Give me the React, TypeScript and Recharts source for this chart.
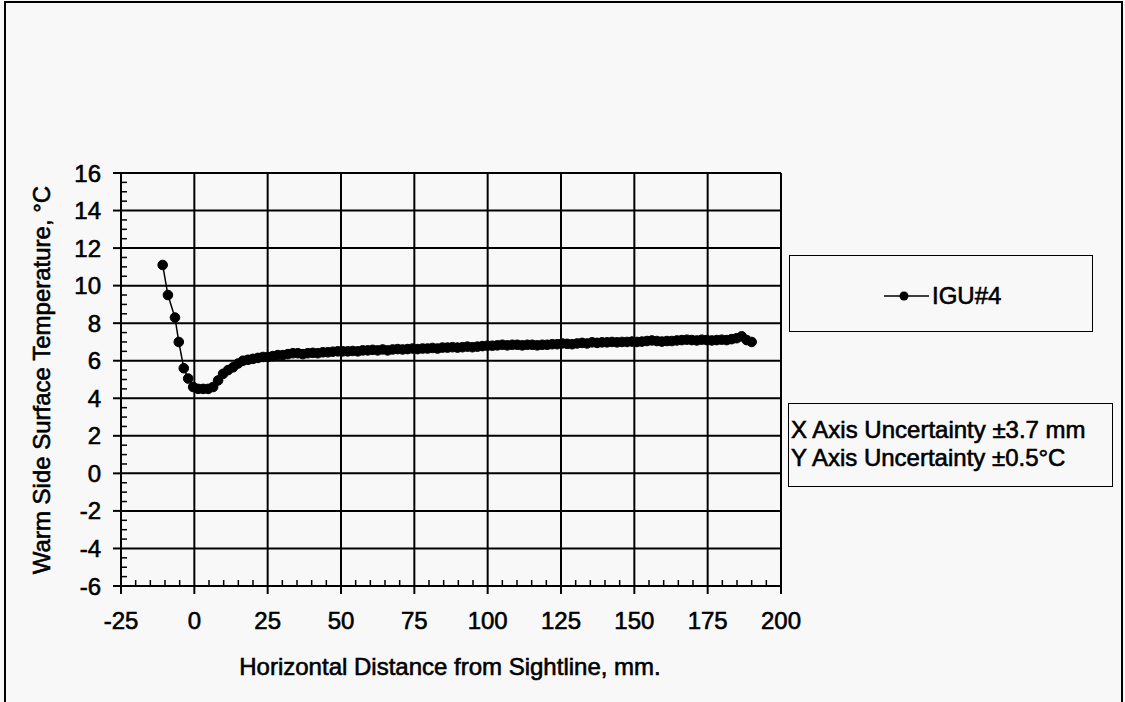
import React from 'react';
import { LineChart, Line, XAxis, YAxis, ReferenceLine, Legend } from 'recharts';

// ---- data ----
const xPositionsMm = [
  -10.8, -9.0, -6.6, -5.3, -3.6, -2.1, -0.4, 1.3, 3.0, 4.7, 6.4, 8.1, 9.8, 11.5, 13.2, 14.9, 16.6, 18.3, 20.0,
  21.7, 23.4, 25.1, 26.8, 28.5, 30.2, 31.9, 33.6, 35.3, 37.0, 38.7, 40.4, 42.1, 43.8, 45.5, 47.2, 48.9, 50.6,
  52.3, 54.0, 55.7, 57.4, 59.1, 60.8, 62.5, 64.2, 65.9, 67.6, 69.3, 71.0, 72.7, 74.4, 76.1, 77.8, 79.5, 81.2,
  82.9, 84.6, 86.3, 88.0, 89.7, 91.4, 93.1, 94.8, 96.5, 98.2, 99.9, 101.6, 103.3, 105.0, 106.7, 108.4, 110.1,
  111.8, 113.5, 115.2, 116.9, 118.6, 120.3, 122.0, 123.7, 125.4, 127.1, 128.8, 130.5, 132.2, 133.9, 135.6,
  137.3, 139.0, 140.7, 142.4, 144.1, 145.8, 147.5, 149.2, 150.9, 152.6, 154.3, 156.0, 157.7, 159.4, 161.1,
  162.8, 164.5, 166.2, 167.9, 169.6, 171.3, 173.0, 174.7, 176.4, 178.1, 179.8, 181.5, 183.2, 184.9, 186.6,
  188.3, 190.0,
];

const igu4Temps = [
  11.1, 9.5, 8.3, 7.0, 5.6, 5.05, 4.6, 4.5, 4.5, 4.5, 4.6, 4.95, 5.3, 5.5, 5.65, 5.85, 6.0, 6.05, 6.1,
  6.15, 6.2, 6.2, 6.25, 6.3, 6.3, 6.35, 6.4, 6.4, 6.35, 6.4, 6.42, 6.4, 6.45, 6.45, 6.48, 6.5, 6.5,
  6.5, 6.52, 6.5, 6.55, 6.55, 6.58, 6.55, 6.6, 6.55, 6.6, 6.62, 6.6, 6.62, 6.65, 6.62, 6.65, 6.65, 6.68,
  6.65, 6.7, 6.7, 6.72, 6.7, 6.72, 6.75, 6.72, 6.75, 6.78, 6.8, 6.8, 6.82, 6.85, 6.82, 6.85, 6.85,
  6.82, 6.85, 6.85, 6.82, 6.85, 6.85, 6.88, 6.88, 6.92, 6.9, 6.88, 6.92, 6.95, 6.92, 6.98,
  6.95, 6.98, 6.98, 7.0, 6.98, 7.0, 7.0, 7.02, 7.0, 7.02, 7.05, 7.08, 7.05, 7.02, 7.05,
  7.05, 7.08, 7.1, 7.12, 7.1, 7.08, 7.12, 7.1, 7.08, 7.1, 7.12, 7.1, 7.15, 7.2, 7.3,
  7.1, 7.0,
];

const seriesName = 'IGU#4';
const xMajorTicks = [-25, 0, 25, 50, 75, 100, 125, 150, 175, 200];
const yMajorTicks = [-6, -4, -2, 0, 2, 4, 6, 8, 10, 12, 14, 16];
const xMinorStep = 5;
const yMinorStep = 0.5;
const xTitle = 'Horizontal Distance from Sightline, mm.';
const yTitle = 'Warm Side Surface Temperature, \u00B0C';
const noteLines = ['X Axis Uncertainty \u00B13.7 mm', 'Y Axis Uncertainty \u00B10.5\u00B0C'];

// ---- derived tables ----
const data = xPositionsMm.map((x, i) => ({ x, igu4: igu4Temps[i] }));
const xAllTicks: number[] = [];
for (let v = xMajorTicks[0]; v <= xMajorTicks[xMajorTicks.length - 1] + 1e-9; v += xMinorStep) xAllTicks.push(v);
const yAllTicks: number[] = [];
for (let v = yMajorTicks[0]; v <= yMajorTicks[yMajorTicks.length - 1] + 1e-9; v += yMinorStep) yAllTicks.push(+v.toFixed(2));

const FONT = '"Liberation Sans", Arial, Helvetica, sans-serif';
const FS = 24;
const TS = 8; // major tick length
const TM = 18; // label gap
const MINOR = 6;
const TEXT_STROKE = 0.6;

const XTick = (props: any) => {
  const { x, y, payload } = props;
  const v = payload.value;
  const axisY = y - TS - TM;
  const major = xMajorTicks.some((m) => Math.abs(m - v) < 1e-6);
  if (major) {
    return (
      <g>
        <line x1={x} x2={x} y1={axisY} y2={axisY + TS} stroke="#000" strokeWidth={2} />
        <text
          x={x}
          y={y}
          dy="0.71em"
          textAnchor="middle"
          fontFamily={FONT}
          fontSize={FS}
          fill="#000"
          stroke="#000"
          strokeWidth={TEXT_STROKE}
        >
          {v}
        </text>
      </g>
    );
  }
  return <line x1={x} x2={x} y1={axisY} y2={axisY - MINOR} stroke="#000" strokeWidth={1.5} />;
};

const YTick = (props: any) => {
  const { x, y, payload } = props;
  const v = payload.value;
  const axisX = x + TS + 12;
  const major = yMajorTicks.some((m) => Math.abs(m - v) < 1e-6);
  if (major) {
    return (
      <g>
        <line x1={axisX - TS} x2={axisX} y1={y} y2={y} stroke="#000" strokeWidth={2} />
        <text
          x={x}
          y={y}
          dy="0.355em"
          textAnchor="end"
          fontFamily={FONT}
          fontSize={FS}
          fill="#000"
          stroke="#000"
          strokeWidth={TEXT_STROKE}
        >
          {v}
        </text>
      </g>
    );
  }
  return <line x1={axisX} x2={axisX + MINOR} y1={y} y2={y} stroke="#000" strokeWidth={1.5} />;
};

const heavyText: React.CSSProperties = { WebkitTextStroke: `${TEXT_STROKE}px #000` } as any;

const LegendBox = () => (
  <div
    style={{
      width: 304,
      height: 77,
      boxSizing: 'border-box',
      border: '1.5px solid #000',
      position: 'relative',
      fontFamily: FONT,
      fontSize: FS,
      color: '#000',
    }}
  >
    <svg width={50} height={20} style={{ position: 'absolute', left: 92, top: 30 }}>
      <line x1={2} x2={47} y1={10} y2={10} stroke="#000" strokeWidth={1.5} />
      <circle cx={22} cy={10} r={4.5} fill="#000" />
    </svg>
    <span style={{ position: 'absolute', left: 142, top: 26, lineHeight: '28px', ...heavyText }}>{seriesName}</span>
  </div>
);

export default function App() {
  return (
    <div
      style={{
        position: 'absolute',
        left: 0,
        top: 0,
        width: 1125,
        height: 702,
        overflow: 'hidden',
        background: '#f8f8f8',
        fontFamily: FONT,
      }}
    >
      <div
        style={{
          position: 'absolute',
          left: 4,
          top: 1,
          width: 1119,
          height: 720,
          boxSizing: 'border-box',
          border: '2px solid #000',
        }}
      />
      <div style={{ position: 'absolute', left: 0, top: 0 }}>
        <LineChart
          width={1125}
          height={702}
          data={data}
          margin={{ top: 173, right: 344, bottom: 56, left: 61 }}
        >
          <XAxis
            dataKey="x"
            type="number"
            domain={[xMajorTicks[0], xMajorTicks[xMajorTicks.length - 1]]}
            ticks={xAllTicks}
            interval={0}
            height={60}
            tickSize={TS}
            tickMargin={TM}
            tickLine={false}
            axisLine={{ stroke: '#000', strokeWidth: 2 }}
            tick={<XTick />}
            allowDataOverflow
          />
          <YAxis
            type="number"
            domain={[yMajorTicks[0], yMajorTicks[yMajorTicks.length - 1]]}
            ticks={yAllTicks}
            interval={0}
            width={60}
            tickSize={TS}
            tickMargin={12}
            tickLine={false}
            axisLine={{ stroke: '#000', strokeWidth: 2 }}
            tick={<YTick />}
            allowDataOverflow
          />
          {xMajorTicks.map((v) => (
            <ReferenceLine key={'vx' + v} x={v} stroke="#000" strokeWidth={2} />
          ))}
          {yMajorTicks.map((v) => (
            <ReferenceLine key={'hy' + v} y={v} stroke="#000" strokeWidth={2} />
          ))}
          <Line
            type="linear"
            dataKey="igu4"
            name={seriesName}
            stroke="#000"
            strokeWidth={1.5}
            dot={{ r: 4.8, fill: '#000', stroke: '#000', strokeWidth: 1 }}
            isAnimationActive={false}
          />
          <Legend
            layout="vertical"
            align="center"
            verticalAlign="middle"
            wrapperStyle={{ left: 789, top: 255, width: 304, height: 77 }}
            content={() => <LegendBox />}
          />
        </LineChart>
      </div>
      <div
        style={{
          position: 'absolute',
          left: 450,
          top: 667,
          transform: 'translate(-50%, -50%)',
          whiteSpace: 'nowrap',
          fontSize: FS,
          color: '#000',
          ...heavyText,
        }}
      >
        {xTitle}
      </div>
      <div
        style={{
          position: 'absolute',
          left: 42,
          top: 380,
          transform: 'translate(-50%, -50%) rotate(-90deg)',
          whiteSpace: 'nowrap',
          fontSize: FS,
          color: '#000',
          ...heavyText,
        }}
      >
        {yTitle}
      </div>
      <div
        style={{
          position: 'absolute',
          left: 788,
          top: 403,
          width: 325,
          height: 84,
          boxSizing: 'border-box',
          border: '1.5px solid #000',
          paddingTop: 12,
          paddingLeft: 2,
          fontSize: FS,
          lineHeight: '28px',
          color: '#000',
          whiteSpace: 'nowrap',
          ...heavyText,
        }}
      >
        {noteLines.map((t) => (
          <div key={t}>{t}</div>
        ))}
      </div>
    </div>
  );
}
